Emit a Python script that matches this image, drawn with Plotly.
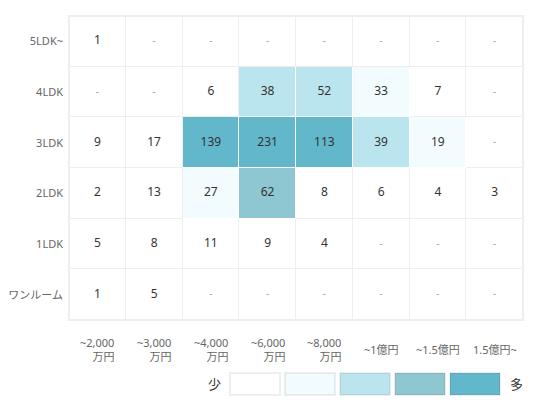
"""間取り × 価格帯のヒートマップ(件数)を Plotly で再現。"""

import plotly.graph_objects as go

# --- データ ---
price_labels = [
    "~2,000<br>万円",
    "~3,000<br>万円",
    "~4,000<br>万円",
    "~6,000<br>万円",
    "~8,000<br>万円",
    "~1億円",
    "~1.5億円",
    "1.5億円~",
]
layouts = ["5LDK~", "4LDK", "3LDK", "2LDK", "1LDK", "ワンルーム"]

# None は "-"(該当なし)
counts_5ldk = [1, None, None, None, None, None, None, None]
counts_4ldk = [None, None, 6, 38, 52, 33, 7, None]
counts_3ldk = [9, 17, 139, 231, 113, 39, 19, None]
counts_2ldk = [2, 13, 27, 62, 8, 6, 4, 3]
counts_1ldk = [5, 8, 11, 9, 4, None, None, None]
counts_1r = [1, 5, None, None, None, None, None, None]

counts = [counts_5ldk, counts_4ldk, counts_3ldk, counts_2ldk, counts_1ldk, counts_1r]

# 色分けの境界(少 → 多 の5段階)
level_bounds = [18, 35, 60, 100]
level_colors = ["#ffffff", "#f2fbfd", "#bbe5ee", "#8ec6d2", "#62b7cb"]

FONT = "Noto Sans, Noto Sans CJK JP, sans-serif"

# ページの body 余白 (8px) を差し引いたキャンバス
W, H = 535, 397
PLOT_L, PLOT_R, PLOT_T, PLOT_B = 61, 515, 8, 312
plot_w, plot_h = PLOT_R - PLOT_L, PLOT_B - PLOT_T

# 列のキー(カテゴリ軸用)
col_keys = [p.replace("<br>", "") for p in price_labels]


def to_level(v):
    if v is None:
        return 0
    return sum(v > b for b in level_bounds)


def px_x(x):
    return (x - PLOT_L) / plot_w


def px_y(y):
    return (PLOT_B - y) / plot_h


levels = [[to_level(v) for v in row] for row in counts]

fig = go.Figure()

# 下地: 白セル同士の境界は薄いグレー、色付きセル同士は白
fig.add_trace(
    go.Heatmap(
        x=col_keys,
        y=layouts,
        z=[[1 if lv > 0 else 0 for lv in row] for row in levels],
        zmin=0,
        zmax=1,
        colorscale=[[0, "#eeeeee"], [1, "#ffffff"]],
        showscale=False,
        hoverinfo="skip",
    )
)

# セル本体
n = len(level_colors)
scale = []
for i, c in enumerate(level_colors):
    scale.append([i / n, c])
    scale.append([(i + 1) / n, c])

fig.add_trace(
    go.Heatmap(
        x=col_keys,
        y=layouts,
        z=levels,
        zmin=-0.5,
        zmax=n - 0.5,
        colorscale=scale,
        xgap=1,
        ygap=1,
        showscale=False,
        customdata=counts,
        hovertemplate="%{y} / %{x}: %{customdata}<extra></extra>",
    )
)

# 件数ラベル
num_x, num_y, num_t = [], [], []
dash_x, dash_y = [], []
for r, row in zip(layouts, counts):
    for c, v in zip(col_keys, row):
        if v is None:
            dash_x.append(c)
            dash_y.append(r)
        else:
            num_x.append(c)
            num_y.append(r)
            num_t.append(str(v))

fig.add_trace(
    go.Scatter(
        x=num_x,
        y=num_y,
        mode="text",
        text=num_t,
        textfont=dict(family=FONT, size=12, color="#333333"),
        showlegend=False,
        hoverinfo="skip",
    )
)
fig.add_trace(
    go.Scatter(
        x=dash_x,
        y=dash_y,
        mode="text",
        text=["-"] * len(dash_x),
        textfont=dict(family=FONT, size=11, color="#aaaaaa"),
        showlegend=False,
        hoverinfo="skip",
    )
)

# 価格帯ラベル(2行目は右寄せ)
for key, label in zip(col_keys, price_labels):
    fig.add_annotation(
        x=key,
        xref="x",
        y=px_y(341.5),
        yref="paper",
        xanchor="center",
        yanchor="middle",
        text=label,
        align="right",
        showarrow=False,
        font=dict(family=FONT, size=11, color="#666666"),
    )

# 凡例(少 ■■■■■ 多)
box_x0, box_w, box_gap = 222, 50, 5
for i, c in enumerate(level_colors):
    x0 = box_x0 + i * (box_w + box_gap)
    fig.add_shape(
        type="rect",
        xref="paper",
        yref="paper",
        x0=px_x(x0),
        x1=px_x(x0 + box_w),
        y0=px_y(365),
        y1=px_y(387),
        fillcolor=c,
        line=dict(color="rgba(0,0,0,0.09)", width=1.5),
    )
for label, x in [("少", 206), ("多", 508)]:
    fig.add_annotation(
        x=px_x(x), y=px_y(376), xref="paper", yref="paper",
        xanchor="center", yanchor="middle",
        text=label, showarrow=False,
        font=dict(family=FONT, size=13, color="#333333"),
    )

# 外枠
fig.add_shape(
    type="rect", xref="paper", yref="paper", x0=0, x1=1, y0=0, y1=1,
    line=dict(color="#eeeeee", width=2), layer="above",
)

fig.update_xaxes(
    showticklabels=False, showgrid=False, zeroline=False, showline=False,
    fixedrange=True, automargin=False,
)
fig.update_yaxes(
    autorange="reversed", showgrid=False, zeroline=False, showline=False,
    ticks="", ticklabelstandoff=5, fixedrange=True, automargin=False,
    tickfont=dict(family=FONT, size=11, color="#666666"),
)
fig.update_layout(
    width=W,
    height=H,
    margin=dict(l=PLOT_L, r=W - PLOT_R, t=PLOT_T, b=H - PLOT_B, autoexpand=False),
    paper_bgcolor="white",
    plot_bgcolor="white",
    showlegend=False,
    font=dict(family=FONT),
)

fig.write_html("out.html")
